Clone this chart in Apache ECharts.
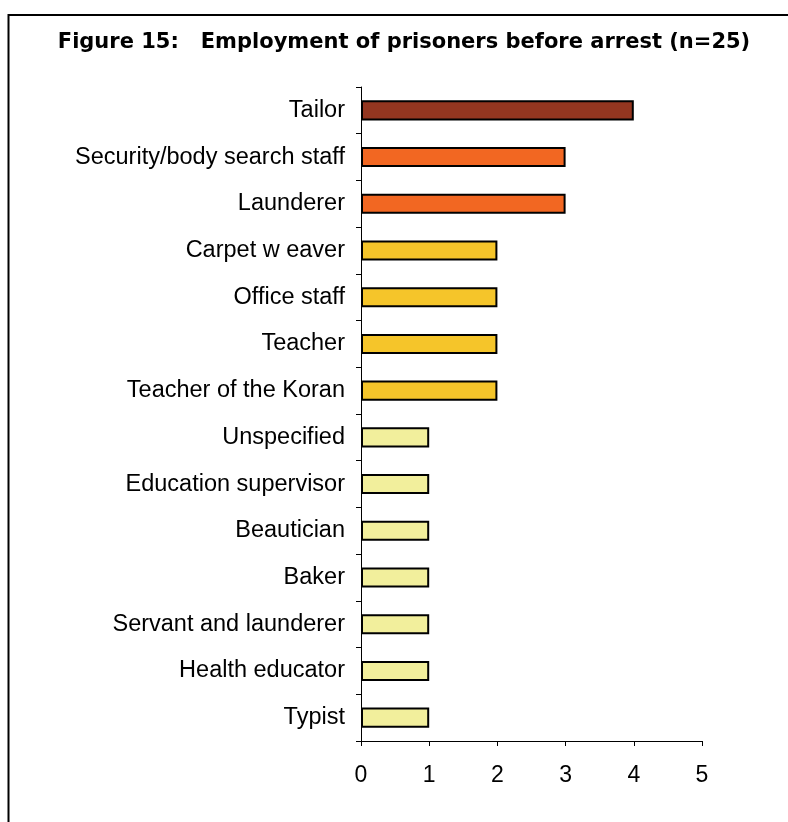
<!DOCTYPE html>
<html>
<head>
<meta charset="utf-8">
<script src="https://cdn.jsdelivr.net/npm/echarts@6/dist/echarts.min.js"></script>
<style>
  html, body { margin: 0; padding: 0; background: #ffffff; }
  #chart { width: 788px; height: 822px; }
</style>
</head>
<body>
<div id="chart"></div>
<script>
// Occupations held before arrest, top to bottom
const categories = [
  'Tailor',
  'Security/body search staff',
  'Launderer',
  'Carpet w eaver',
  'Office staff',
  'Teacher',
  'Teacher of the Koran',
  'Unspecified',
  'Education supervisor',
  'Beautician',
  'Baker',
  'Servant and launderer',
  'Health educator',
  'Typist'
];
// Number of prisoners per occupation
const counts = [4, 3, 3, 2, 2, 2, 2, 1, 1, 1, 1, 1, 1, 1];
const xTicks = [0, 1, 2, 3, 4, 5];

// Bar fill by count
const fillByCount = { 4: '#943620', 3: '#F26722', 2: '#F5C52A', 1: '#F2EF9C' };

const chart = echarts.init(document.getElementById('chart'));
chart.setOption({
  animation: false,
  backgroundColor: '#ffffff',
  title: {
    text: 'Figure 15:   Employment of prisoners before arrest (n=25)',
    left: 399,
    textAlign: 'center',
    top: 27,
    textStyle: {
      fontFamily: 'Verdana, "DejaVu Sans", sans-serif',
      fontWeight: 'bold',
      fontSize: 21,
      color: '#000000'
    }
  },
  graphic: [{
    type: 'rect',
    shape: { x: 8.5, y: 15, width: 800, height: 820 },
    style: { fill: 'none', stroke: '#000000', lineWidth: 2 },
    silent: true
  }],
  grid: { left: 361, right: 86, top: 87, bottom: 81, containLabel: false },
  xAxis: {
    type: 'value',
    min: xTicks[0],
    max: xTicks[xTicks.length - 1],
    interval: 1,
    splitLine: { show: false },
    axisLine: { show: true, lineStyle: { color: '#000000', width: 1 } },
    axisTick: { show: true, length: 5, lineStyle: { color: '#000000' } },
    axisLabel: {
      margin: 23,
      fontFamily: 'Arial, "Liberation Sans", sans-serif',
      fontSize: 23,
      color: '#000000'
    }
  },
  yAxis: {
    type: 'category',
    data: categories,
    inverse: true,
    axisLine: { show: true, lineStyle: { color: '#000000', width: 1 } },
    axisTick: { show: true, length: 5, alignWithLabel: false, lineStyle: { color: '#000000' } },
    axisLabel: {
      margin: 16,
      fontFamily: 'Arial, "Liberation Sans", sans-serif',
      fontSize: 23.5,
      color: '#000000'
    }
  },
  series: [{
    type: 'bar',
    data: counts,
    barCategoryGap: '57%',
    itemStyle: {
      color: p => fillByCount[p.value],
      borderColor: '#000000',
      borderWidth: 2
    }
  }]
});
</script>
</body>
</html>
